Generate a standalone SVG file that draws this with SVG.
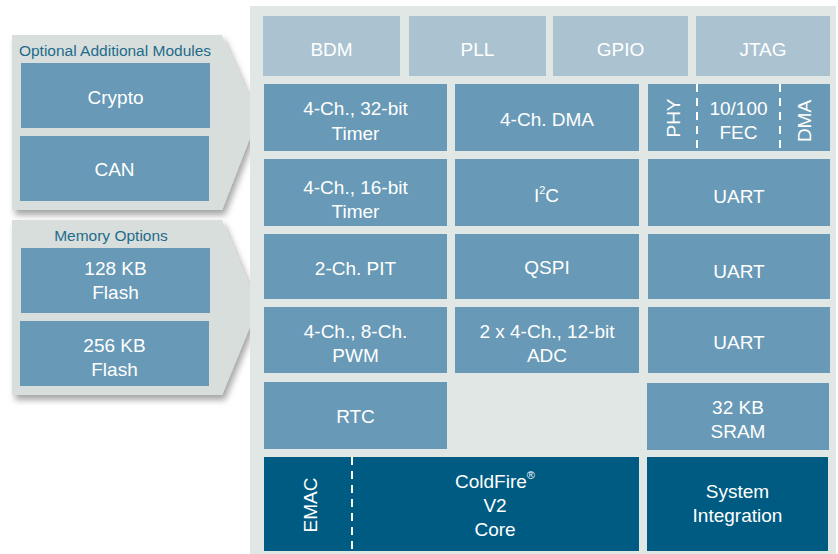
<svg xmlns="http://www.w3.org/2000/svg" width="838" height="554" viewBox="0 0 838 554">
<defs>
<filter id="sh" x="-10%" y="-10%" width="130%" height="130%">
<feDropShadow dx="3" dy="5" stdDeviation="3" flood-color="#000" flood-opacity="0.35"/>
</filter>
<style>
text{font-family:"Liberation Sans",Arial,sans-serif;font-size:19px;fill:#fff;text-anchor:middle}
.t{font-size:15.5px;fill:#1f6b8c}
.lt{fill:#abc2d1}
.md{fill:#6899b6}
.dk{fill:#005b82}
.dash{stroke:#fff;stroke-width:2;stroke-dasharray:8,6;fill:none}
.sup{font-size:11px}
</style>
</defs>
<rect width="838" height="554" fill="#fff"/>
<g id="optional-modules">
<path d="M12,35 H222 L258,117 L222,210 H12 Z" fill="#d7dedb" filter="url(#sh)"/>
<text class="t" x="115" y="56">Optional Additional Modules</text>
<g id="crypto"><rect class="md" x="21" y="63" width="189" height="65"/><text x="115.5" y="104">Crypto</text></g>
<g id="can"><rect class="md" x="20" y="136" width="189" height="65"/><text x="114.5" y="176">CAN</text></g>
</g>
<g id="memory-options">
<path d="M12,220 H222 L258,307 L222,395 H12 Z" fill="#d7dedb" filter="url(#sh)"/>
<text class="t" x="111" y="241">Memory Options</text>
<g id="flash128"><rect class="md" x="21" y="248" width="189" height="65"/><text x="115.5" y="275">128 KB</text><text x="115.5" y="299">Flash</text></g>
<g id="flash256"><rect class="md" x="20" y="321" width="189" height="65"/><text x="114.5" y="352">256 KB</text><text x="114.5" y="376">Flash</text></g>
</g>
<rect id="main-panel" x="250" y="6" width="586" height="548" fill="#e1e7e5"/>
<g id="bdm"><rect class="lt" x="263" y="16" width="137" height="60"/><text x="331.5" y="56">BDM</text></g>
<g id="pll"><rect class="lt" x="409" y="16" width="137" height="60"/><text x="477.5" y="56">PLL</text></g>
<g id="gpio"><rect class="lt" x="553" y="16" width="135" height="60"/><text x="620.5" y="56">GPIO</text></g>
<g id="jtag"><rect class="lt" x="696" y="16" width="134" height="60"/><text x="763" y="56">JTAG</text></g>

<g id="timer32"><rect class="md" x="264" y="84" width="183" height="67"/><text x="355.5" y="115">4-Ch., 32-bit</text><text x="355.5" y="140">Timer</text></g>
<g id="dma"><rect class="md" x="455" y="84" width="184" height="67"/><text x="547" y="126">4-Ch. DMA</text></g>
<g id="fec"><rect class="md" x="648" y="84" width="182" height="67"/>
<text transform="translate(679.5,118) rotate(-90)">PHY</text>
<text x="738.5" y="115">10/100</text><text x="738.5" y="139">FEC</text>
<text transform="translate(810.5,121) rotate(-90)">DMA</text>
<line class="dash" x1="697" y1="84" x2="697" y2="151"/>
<line class="dash" x1="780" y1="84" x2="780" y2="151"/>
</g>

<g id="timer16"><rect class="md" x="264" y="159" width="183" height="67"/><text x="355.5" y="194">4-Ch., 16-bit</text><text x="355.5" y="218">Timer</text></g>
<g id="i2c"><rect class="md" x="455" y="159" width="184" height="67"/><text x="546.5" y="202">I<tspan class="sup" dy="-8">2</tspan><tspan dy="8">C</tspan></text></g>
<g id="uart1"><rect class="md" x="648" y="159" width="182" height="67"/><text x="739" y="203">UART</text></g>

<g id="pit"><rect class="md" x="264" y="234" width="183" height="65"/><text x="355.5" y="275">2-Ch. PIT</text></g>
<g id="qspi"><rect class="md" x="455" y="234" width="184" height="65"/><text x="547" y="274">QSPI</text></g>
<g id="uart2"><rect class="md" x="648" y="234" width="182" height="65"/><text x="739" y="278">UART</text></g>

<g id="pwm"><rect class="md" x="264" y="307" width="183" height="66"/><text x="355.5" y="338">4-Ch., 8-Ch.</text><text x="355.5" y="362">PWM</text></g>
<g id="adc"><rect class="md" x="455" y="307" width="184" height="66"/><text x="547" y="338">2 x 4-Ch., 12-bit</text><text x="547" y="362">ADC</text></g>
<g id="uart3"><rect class="md" x="648" y="307" width="182" height="66"/><text x="739" y="349">UART</text></g>

<g id="rtc"><rect class="md" x="264" y="382" width="183" height="67"/><text x="355.5" y="423">RTC</text></g>
<g id="sram"><rect class="md" x="647" y="383" width="182" height="67"/><text x="738" y="414">32 KB</text><text x="738" y="438">SRAM</text></g>

<g id="coldfire"><rect class="dk" x="264" y="457" width="375" height="94"/>
<text transform="translate(317,505) rotate(-90)">EMAC</text>
<line class="dash" x1="352" y1="457" x2="352" y2="551"/>
<text x="495" y="488">ColdFire<tspan class="sup" dy="-9">®</tspan></text>
<text x="495" y="512">V2</text>
<text x="495" y="536">Core</text>
</g>
<g id="system-integration"><rect class="dk" x="647" y="457" width="181" height="94"/><text x="737.5" y="498">System</text><text x="737.5" y="522">Integration</text></g>
<g id="connectors"/>
</svg>
